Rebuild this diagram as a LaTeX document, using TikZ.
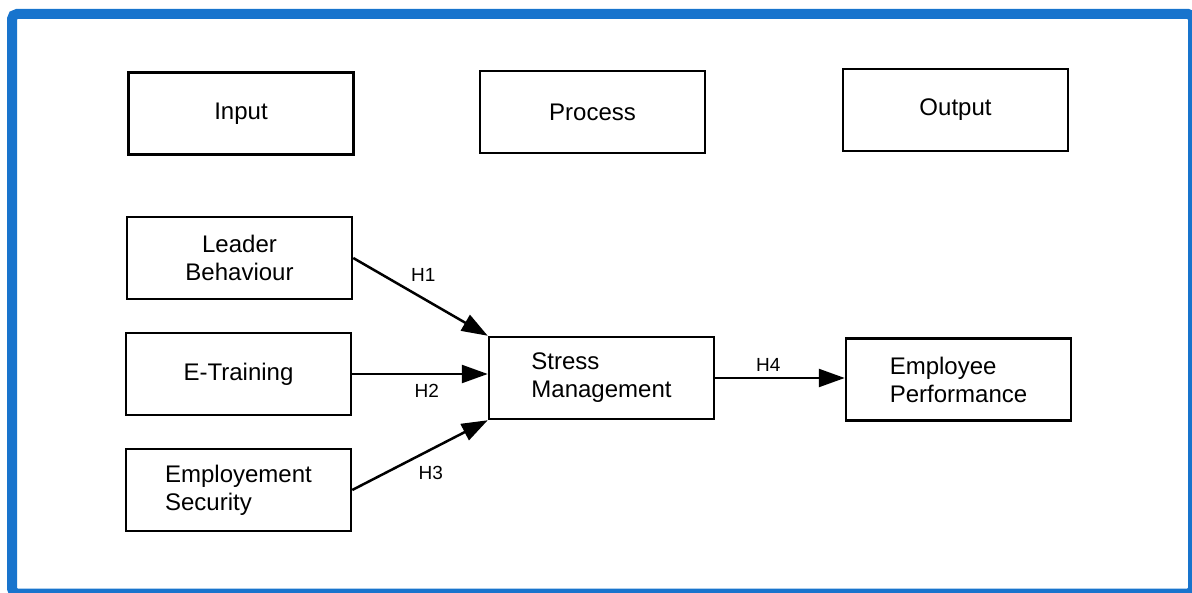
\documentclass[tikz,border=0pt]{standalone}
\usepackage{fontspec}
\setmainfont{Liberation Sans}
\usetikzlibrary{arrows.meta}
\definecolor{frameblue}{RGB}{24,116,205}
\begin{document}
\begin{tikzpicture}[x=1pt, y=-1pt,
   box/.style={draw, line width=2.5pt, minimum width=225pt, minimum height=82pt,
               font=\fontsize{24}{28}\selectfont},
   hyp/.style={font=\fontsize{19}{20}\selectfont},
   link/.style={line width=2.5pt, -{Triangle[length=26pt, width=18pt]}}]

\useasboundingbox (0,0) rectangle (1192,593);
\draw[frameblue, line width=10pt, rounded corners=5pt] (12,14) rectangle (1193,593.5);

% stages
\node[box] (input)   at (241,113.5) {Input};
\node[box] (process) at (592.5,112) {Process};
\node[box] (output)  at (955.5,110) {Output};

% variables
\node[box, align=center] (leader)   at (239.5,258) {Leader\\Behaviour};
\node[box]               (etrain)   at (238.5,374) {E-Training};
\node[box, align=left]   (security) at (238.5,490) {Employement\\Security};
\node[box, align=left]   (stress)   at (601.5,378) {Stress\\Management};
\node[box, align=left]   (perf)     at (958.5,379.5) {Employee\\Performance};

% hypotheses
\draw[link] (leader.east) -- node[hyp, pos=.52, above=12pt] {H1} (stress.north west);
\draw[link] (etrain.east) -- node[hyp, pos=.55, below=6pt] {H2} (etrain.east -| stress.west);
\draw[link] (security.east) -- node[hyp, pos=.58, below=12pt] {H3} (stress.south west);
\draw[link] (stress.east) -- node[hyp, pos=.41, above=2pt] {H4} (stress.east -| perf.west);

\end{tikzpicture}
\end{document}
